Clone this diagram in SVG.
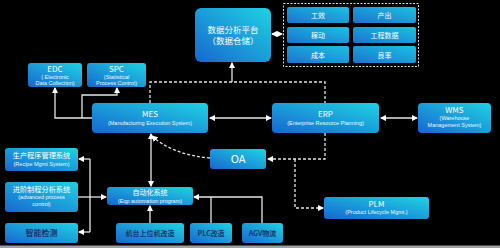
<svg xmlns="http://www.w3.org/2000/svg" width="500" height="248" viewBox="0 0 500 248">
<defs>
<linearGradient id="g" x1="0" y1="1" x2="1" y2="0">
<stop offset="0" stop-color="#1767d0"/>
<stop offset="1" stop-color="#1fd2e2"/>
</linearGradient>
<linearGradient id="g2" x1="0" y1="1" x2="1" y2="0">
<stop offset="0" stop-color="#1a74d2"/>
<stop offset="1" stop-color="#1cc0e0"/>
</linearGradient>
<marker id="a" viewBox="0 0 6 6" refX="5" refY="3" markerWidth="5" markerHeight="5" orient="auto-start-reverse">
<path d="M0,0 L6,3 L0,6 z" fill="#fff"/>
</marker>
<style>
.b{fill:url(#g)}
.c{fill:url(#g2)}
.t{font-family:"Noto Sans CJK SC","Liberation Sans",sans-serif;fill:#fff;text-anchor:middle}
.s{font-family:"Liberation Sans","Noto Sans CJK SC",sans-serif;fill:#e8fbff;text-anchor:middle;font-size:5.5px}
.d{font-family:"Noto Sans CJK SC","Liberation Sans",sans-serif;fill:#16386e;text-anchor:middle;font-weight:bold}
.l{fill:none;stroke:#e6e6e6;stroke-width:1.3}
.ds{fill:none;stroke:#e6e6e6;stroke-width:1.3;stroke-dasharray:3 2}
</style>
</defs>
<rect width="500" height="248" fill="#000"/>
<rect y="245.5" width="500" height="2.5" fill="#a0a0a0"/>

<g id="connectors">
<path class="l" d="M272,34 H282" marker-start="url(#a)" marker-end="url(#a)"/>
<path class="l" d="M232,82 V63" marker-end="url(#a)"/>
<path class="ds" d="M150,103 V82 H325 V103"/>
<path class="l" d="M92,118 H55 V88" marker-end="url(#a)"/>
<path class="l" d="M82,118 V95 H117 V88" marker-end="url(#a)"/>
<path class="l" d="M210,118 H271" marker-start="url(#a)" marker-end="url(#a)"/>
<path class="l" d="M381,118 H417" marker-start="url(#a)" marker-end="url(#a)"/>
<path class="ds" d="M325,133 V159 H268" marker-end="url(#a)"/>
<path class="ds" d="M295,159 V208 H323" marker-end="url(#a)"/>
<path class="ds" d="M210,158 C185,156 165,148 152,136" marker-end="url(#a)"/>
<path class="l" d="M151,134 V186" marker-start="url(#a)" marker-end="url(#a)"/>
<path class="l" d="M78,197 H106" marker-end="url(#a)"/>
<path class="l" d="M90,159 H79" marker-end="url(#a)"/>
<path class="l" d="M90,232 H79" marker-end="url(#a)"/>
<path class="l" d="M90,159 V232"/>
<path class="l" d="M150,223 V206" marker-end="url(#a)"/>
<path class="l" d="M211,223 V197"/>
<path class="l" d="M262,223 V197 H194" marker-end="url(#a)"/>
</g>

<g id="platform">
<rect class="b" x="195" y="8" width="76" height="54" rx="6"/>
<text class="t" x="233" y="33" font-size="8.5">数据分析平台</text>
<text class="t" x="233" y="44" font-size="8.5">（数据仓储）</text>
</g>

<g id="metrics">
<rect x="283.5" y="3.5" width="135" height="63" fill="none" stroke="#ddd" stroke-width="1" stroke-dasharray="2 1.5"/>
<rect class="c" x="287" y="7" width="62" height="16" rx="2"/>
<text class="t" x="318" y="18" font-size="7">工效</text>
<rect class="c" x="353" y="7" width="63" height="16" rx="2"/>
<text class="t" x="384.5" y="18" font-size="7">产出</text>
<rect class="c" x="287" y="27" width="62" height="16" rx="2"/>
<text class="t" x="318" y="38" font-size="7">稼动</text>
<rect class="c" x="353" y="27" width="63" height="16" rx="2"/>
<text class="t" x="384.5" y="38" font-size="7">工程数据</text>
<rect class="c" x="287" y="46" width="62" height="17" rx="2"/>
<text class="t" x="318" y="57.5" font-size="7">成本</text>
<rect class="c" x="353" y="46" width="63" height="17" rx="2"/>
<text class="t" x="384.5" y="57.5" font-size="7">良率</text>
</g>

<g id="edc">
<rect class="b" x="28" y="63" width="54" height="24" rx="3"/>
<text class="t" x="55" y="71.5" font-size="8">EDC</text>
<text class="s" x="55" y="78.5">( Electronic</text>
<text class="s" x="55" y="84.5">Data Collection)</text>
</g>

<g id="spc">
<rect class="b" x="87" y="63" width="59" height="24" rx="3"/>
<text class="t" x="116.5" y="71.5" font-size="8">SPC</text>
<text class="s" x="116.5" y="78.5">(Statistical</text>
<text class="s" x="116.5" y="84.5">Process Control)</text>
</g>

<g id="mes">
<rect class="b" x="92" y="103" width="116" height="30" rx="4"/>
<text class="t" x="150" y="117" font-size="8">MES</text>
<text class="s" x="150" y="124.5" font-size="6">(Manufacturing Execution System)</text>
</g>

<g id="erp">
<rect class="b" x="272" y="103" width="107" height="30" rx="4"/>
<text class="t" x="325.5" y="117" font-size="8">ERP</text>
<text class="s" x="325.5" y="124.5">(Enterprise Resource Planning)</text>
</g>

<g id="wms">
<rect class="b" x="418" y="103" width="73" height="30" rx="4"/>
<text class="t" x="454.5" y="112.5" font-size="8">WMS</text>
<text class="s" x="454.5" y="120">(Warehouse</text>
<text class="s" x="454.5" y="126.5">Management System)</text>
</g>

<g id="oa">
<rect class="b" x="210" y="149" width="56" height="20" rx="3"/>
<text class="t" x="238" y="163" font-size="11">OA</text>
</g>

<g id="plm">
<rect class="b" x="324" y="197" width="105" height="22" rx="3"/>
<text class="t" x="376.5" y="206.5" font-size="8">PLM</text>
<text class="s" x="376.5" y="214">(Product Lifecycle Mgmt.)</text>
</g>

<g id="recipe">
<rect class="b" x="5" y="148" width="73" height="23" rx="3"/>
<text class="t" x="41.5" y="157.5" font-size="7.2">生产程序管理系统</text>
<text class="s" x="41.5" y="165.5">(Recipe Mgmt System)</text>
</g>

<g id="apc">
<rect class="b" x="5" y="182" width="73" height="30" rx="3"/>
<text class="t" x="41.5" y="191.5" font-size="7.2">进阶制程分析系统</text>
<text class="s" x="41.5" y="199">(advanced process</text>
<text class="s" x="41.5" y="205.5">control)</text>
</g>

<g id="inspection">
<rect class="b" x="5" y="223" width="73" height="20" rx="3"/>
<text class="d" x="41.5" y="236" font-size="8">智能检测</text>
</g>

<g id="automation">
<rect class="b" x="107" y="187" width="86" height="18" rx="3"/>
<text class="t" x="150" y="195" font-size="7">自动化系统</text>
<text class="s" x="150" y="202.5">(Eqp automation program)</text>
</g>

<g id="host">
<rect class="b" x="116" y="223" width="68" height="20" rx="3"/>
<text class="d" x="150" y="236" font-size="7">机台上位机改造</text>
</g>

<g id="plc">
<rect class="b" x="190" y="223" width="42" height="20" rx="3"/>
<text class="d" x="211" y="236" font-size="7">PLC改造</text>
</g>

<g id="agv">
<rect class="b" x="242" y="223" width="41" height="20" rx="3"/>
<text class="d" x="262.5" y="236" font-size="7">AGV物流</text>
</g>
</svg>
